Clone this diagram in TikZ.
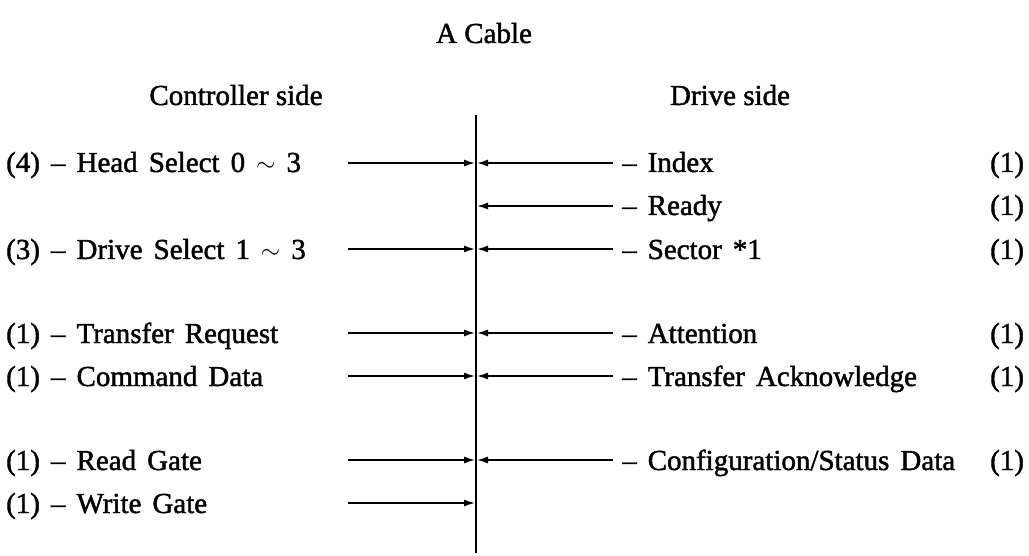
\documentclass[tikz,border=0pt]{standalone}
\usepackage{fontspec}
\setmainfont[FakeBold=1.5]{Liberation Serif}
\usetikzlibrary{arrows.meta}
\newcommand{\wsp}{\spaceskip=0.38em plus 0.1em\relax}
\begin{document}
\begin{tikzpicture}[x=1pt,y=-1pt,
  lbl/.style={inner sep=0pt,anchor=base west,font=\fontsize{29}{31}\selectfont\wsp},
  hdr/.style={inner sep=0pt,anchor=base,font=\fontsize{29}{31}\selectfont},
  sig/.style={line width=1.5pt,-{Latex[length=11pt,width=7pt]}},
  cable/.style={line width=1.6pt}]
\useasboundingbox (0,0) rectangle (1029,556);
% headings
\node[hdr] (title) at (484,43) {A Cable};
\node[hdr] (ctrl) at (236,105) {Controller side};
\node[hdr] (drv) at (730,105) {Drive side};
% cable
\coordinate (ctop) at (476,115);
\coordinate (cbot) at (476,553);
\draw[cable] (ctop) -- (cbot);
% left labels
\node[lbl] (l1) at (6,172) {(4) -- Head Select 0 $\sim$ 3};
\node[lbl] (l2) at (6,259) {(3) -- Drive Select 1 $\sim$ 3};
\node[lbl] (l3) at (6,343) {(1) -- Transfer Request};
\node[lbl] (l4) at (6,386) {(1) -- Command Data};
\node[lbl] (l5) at (6,470) {(1) -- Read Gate};
\node[lbl] (l6) at (6,513) {(1) -- Write Gate};
% right labels
\node[lbl] (r1) at (622,172) {-- Index};
\node[lbl] (r2) at (622,215) {-- Ready};
\node[lbl] (r3) at (622,259) {-- Sector *1};
\node[lbl] (r4) at (622,343) {-- Attention};
\node[lbl] (r5) at (622,386) {-- Transfer Acknowledge};
\node[lbl] (r6) at (622,470) {-- Configuration/Status Data};
\foreach \y/\n in {172/1,215/2,259/3,343/4,386/5,470/6}
  \node[lbl] (n\n) at (990,\y) {(1)};
% line endpoints
\foreach \y/\n in {163/1,249/2,333/3,376/4,460/5,503/6} {
  \coordinate (ls\n) at (348,\y);
  \coordinate (le\n) at (475,\y);
}
\foreach \y/\n in {163/1,206/2,249/3,333/4,376/5,460/6} {
  \coordinate (rs\n) at (613,\y);
  \coordinate (re\n) at (477,\y);
}
\foreach \n in {1,...,6} {
  \draw[sig] (ls\n) -- (le\n);
  \draw[sig] (rs\n) -- (re\n);
}
\end{tikzpicture}
\end{document}
